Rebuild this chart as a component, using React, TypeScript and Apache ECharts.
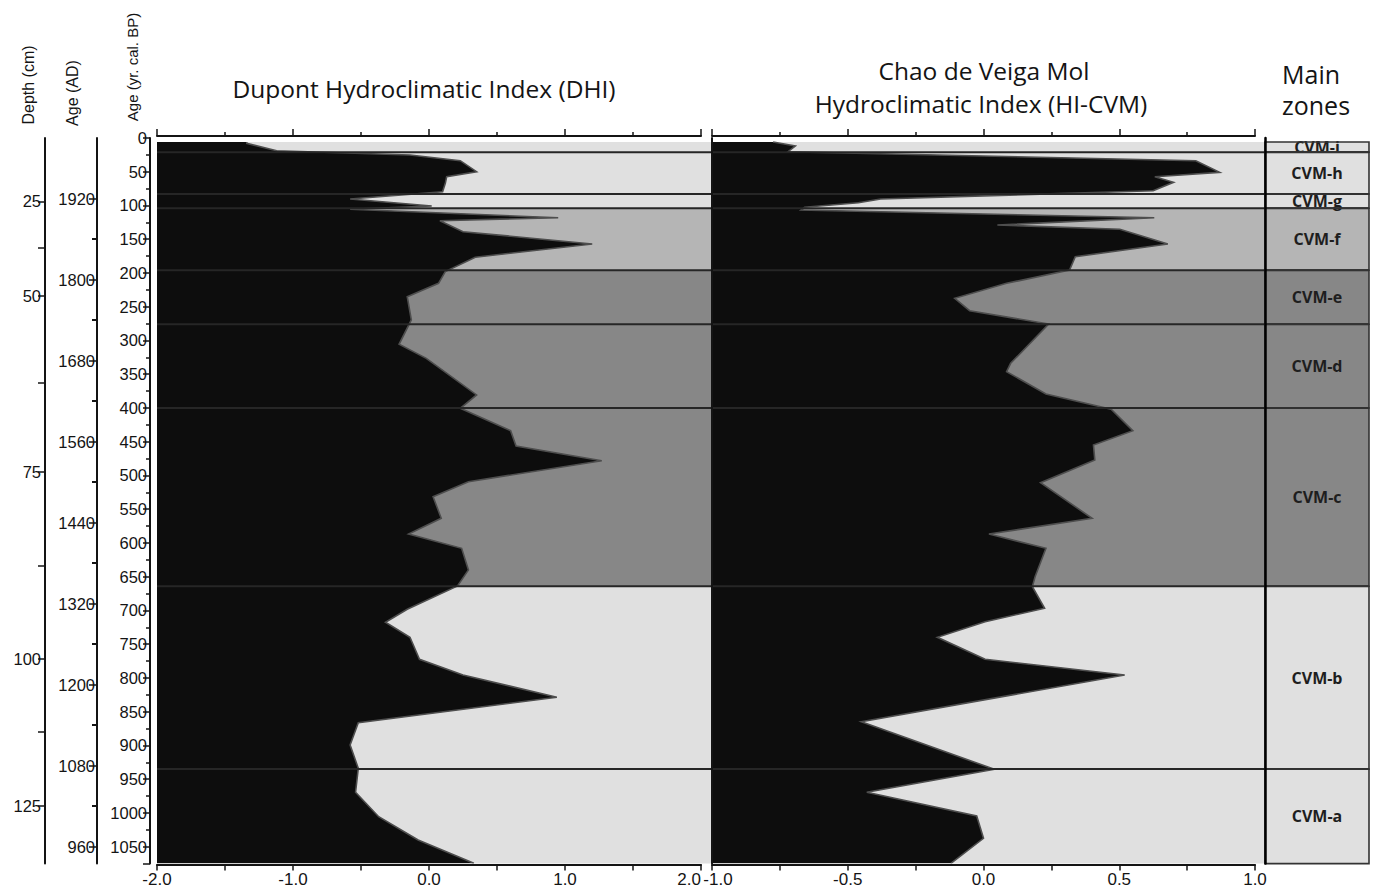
import React, { useEffect, useRef } from 'react';
import * as echarts from 'echarts';

// ---------------- data ----------------
const ageMax = 1075; // yr cal BP at the bottom of the profile
const adAtZeroBP = 2010; // Age (AD) = adAtZeroBP - Age (BP)
const bpLabelStep = 50;

const depthTicks = [25, 37.5, 50, 62.5, 75, 87.5, 100, 112.5, 125];
const depthTickAges = [94, 163, 234, 363, 495, 634, 772, 880, 989];
const depthLabelStep = 25;

const adLabels = [1920, 1800, 1680, 1560, 1440, 1320, 1200, 1080, 960];
const adMinorTicks = [1860, 1740, 1620, 1500, 1380, 1260, 1140, 1020];

const dhiAxisMin = -2;
const dhiAxisMax = 2;
const dhiAxisStep = 1;
const hiAxisMin = -1;
const hiAxisMax = 1;
const hiAxisStep = 0.5;

const dhiAges = [6, 8, 18.8, 25.2, 33.6, 49.9, 57.3, 67.1, 79.6, 90.4,
  100.7, 105.6, 118.1, 122.5, 138.8, 157, 176.7, 198, 215.3, 235.1,
  269.6, 305.6, 326.4, 380.7, 400.4, 433.6, 456.3, 478.1, 509.2, 531.4,
  563.4, 586.7, 607.9, 640, 663.7, 698.2, 717.5, 739.7, 772.3, 795.6,
  828.6, 866.2, 899.3, 933.8, 969.3, 1005.5, 1040, 1074.5];
const dhiValues = [-1.34, -1.34, -1.12, -0.14, 0.23, 0.35, 0.13, 0.12, 0.10, -0.58,
  0.02, -0.58, 0.95, 0.08, 0.25, 1.20, 0.34, 0.12, 0.07, -0.16,
  -0.13, -0.22, -0.02, 0.35, 0.23, 0.60, 0.64, 1.27, 0.29, 0.03,
  0.09, -0.15, 0.24, 0.29, 0.21, -0.16, -0.32, -0.14, -0.07, 0.25,
  0.94, -0.52, -0.58, -0.52, -0.54, -0.37, -0.08, 0.33];

const hiAges = [6, 11.9, 20.3, 33.6, 50.8, 57.3, 65.6, 78.1, 90.4, 95.9,
  102.7, 106.7, 118.1, 128.9, 135.3, 157, 175.9, 195.6, 215.3, 237.5,
  255.9, 275.6, 333.8, 346.2, 379.3, 401.9, 433.6, 454.8, 477, 510.7,
  563.4, 586.7, 607.9, 649.9, 664.7, 696.7, 716.6, 739.7, 772.3, 795.6,
  864.7, 935.3, 969.3, 1004.4, 1037.5, 1074.5];
const hiValues = [-0.775, -0.693, -0.72, 0.782, 0.87, 0.631, 0.70, 0.625, -0.379, -0.461,
  -0.659, -0.672, 0.629, 0.051, 0.502, 0.679, 0.338, 0.317, 0.085, -0.106,
  -0.051, 0.24, 0.10, 0.085, 0.23, 0.47, 0.55, 0.405, 0.41, 0.21,
  0.40, 0.02, 0.23, 0.19, 0.18, 0.225, 0.006, -0.17, 0.006, 0.52,
  -0.45, 0.04, -0.43, -0.025, 0.0, -0.12];

const zoneNames = ['CVM-i', 'CVM-h', 'CVM-g', 'CVM-f', 'CVM-e', 'CVM-d', 'CVM-c', 'CVM-b', 'CVM-a'];
const zoneTops = [6, 21, 83, 104, 196, 276, 400, 664, 935];
const zoneBottoms = [21, 83, 104, 196, 276, 400, 664, 935, 1075];
const zoneShades = ['light', 'light', 'light', 'medium', 'dark', 'dark', 'dark', 'light', 'light'];

// ---------------- styles ----------------
const shadeColors: Record<string, string> = { light: '#e0e0e0', medium: '#b5b5b5', dark: '#878787' };
const ink = '#141414';
const sans = '"Liberation Sans", Arial, sans-serif';
const titleFont = '"Open Sans", "Noto Sans", sans-serif';

const GRID_TOP = 138;
const GRID_H = 725.6;

function profileSeries(xi: number, yi: number, values: number[], ages: number[], base: number) {
  return {
    type: 'custom',
    xAxisIndex: xi,
    yAxisIndex: yi,
    z: 3,
    silent: true,
    clip: true,
    data: ages.map((a, i) => [values[i], a]),
    encode: { x: 0, y: 1 },
    renderItem: (params: any, api: any) => {
      if (params.dataIndex !== 0) return null;
      const line = ages.map((a, i) => api.coord([values[i], a]));
      const poly = [api.coord([base, ages[0]]), ...line, api.coord([base, ages[ages.length - 1]])];
      return {
        type: 'group',
        children: [
          { type: 'polygon', shape: { points: poly }, style: { fill: '#0d0d0d' } },
          { type: 'polyline', shape: { points: line }, style: { stroke: '#4e4e4e', lineWidth: 1.6, fill: 'none' } },
        ],
      };
    },
  };
}

function topBottomX(grid: number, min: number, max: number, step: number, bottom: boolean, extraLabel: any) {
  return {
    gridIndex: grid,
    type: 'value',
    position: bottom ? 'bottom' : 'top',
    offset: bottom ? 1 : 2,
    min,
    max,
    interval: step,
    z: 10,
    axisLine: { show: true, onZero: false, lineStyle: { color: ink, width: 2 } },
    axisTick: { show: true, length: bottom ? 6 : 7, lineStyle: { color: ink, width: 1.5 } },
    minorTick: { show: true, splitNumber: 2, length: bottom ? 6 : 4, lineStyle: { color: ink, width: 1.5 } },
    axisLabel: bottom
      ? { show: true, formatter: (v: number) => v.toFixed(1), fontSize: 17, fontFamily: sans, color: ink, margin: 6, ...extraLabel }
      : { show: false },
    splitLine: { show: false },
    minorSplitLine: { show: false },
  };
}

export default function App() {
  const ref = useRef<HTMLDivElement>(null);

  useEffect(() => {
    document.body.style.margin = '0';
    const chart = echarts.init(ref.current as HTMLDivElement, null, { renderer: 'svg' });

    const depthMajorAges = depthTickAges.filter((_, i) => depthTicks[i] % depthLabelStep === 0);
    const leftLabel = { fontSize: 16.5, fontFamily: sans, color: ink, margin: 3 };

    const option: any = {
      animation: false,
      backgroundColor: '#ffffff',
      grid: [
        { left: 157, top: GRID_TOP, width: 1212, height: GRID_H },
        { left: 157, top: GRID_TOP, width: 544, height: GRID_H },
        { left: 712, top: GRID_TOP, width: 543, height: GRID_H },
        { left: 1265, top: GRID_TOP, width: 104, height: GRID_H },
      ],
      xAxis: [
        { gridIndex: 0, type: 'value', min: 0, max: 1, show: false },
        topBottomX(1, dhiAxisMin, dhiAxisMax, dhiAxisStep, true, { alignMaxLabel: 'right' }),
        topBottomX(1, dhiAxisMin, dhiAxisMax, dhiAxisStep, false, {}),
        topBottomX(2, hiAxisMin, hiAxisMax, hiAxisStep, true, {
          formatter: (v: number) => (v === hiAxisMin ? `{m|${v.toFixed(1)}}` : v.toFixed(1)),
          rich: { m: { fontSize: 17, fontFamily: sans, color: ink, padding: [0, 0, 0, 12] } },
        }),
        topBottomX(2, hiAxisMin, hiAxisMax, hiAxisStep, false, {}),
        { gridIndex: 3, type: 'value', min: 0, max: 1, show: false },
      ],
      yAxis: [
        { gridIndex: 0, type: 'value', min: 0, max: ageMax, inverse: true, show: false },
        {
          gridIndex: 1, type: 'value', min: 0, max: ageMax, inverse: true, interval: bpLabelStep,
          position: 'left', offset: 7, z: 10,
          axisLine: { show: true, onZero: false, lineStyle: { color: ink, width: 2 } },
          axisTick: { show: true, length: 7, lineStyle: { color: ink, width: 1.5 } },
          minorTick: { show: true, splitNumber: 2, length: 4, lineStyle: { color: ink, width: 1.5 } },
          axisLabel: { showMaxLabel: false, formatter: (v: number) => String(v), ...leftLabel },
          splitLine: { show: false },
        },
        {
          gridIndex: 1, type: 'value', min: adAtZeroBP - ageMax, max: adAtZeroBP,
          position: 'left', offset: 60, z: 10,
          axisLine: { show: true, onZero: false, lineStyle: { color: ink, width: 2 } },
          axisTick: { show: true, customValues: adLabels, length: 8, lineStyle: { color: ink, width: 1.5 } },
          axisLabel: { show: true, customValues: adLabels, formatter: (v: number) => String(v), ...leftLabel, margin: 2 },
          splitLine: { show: false },
        },
        {
          gridIndex: 1, type: 'value', min: adAtZeroBP - ageMax, max: adAtZeroBP,
          position: 'left', offset: 60, z: 10,
          axisLine: { show: false, onZero: false },
          axisTick: { show: true, customValues: adMinorTicks, length: 5, lineStyle: { color: ink, width: 2 } },
          axisLabel: { show: false },
          splitLine: { show: false },
        },
        {
          gridIndex: 1, type: 'value', min: 0, max: ageMax, inverse: true,
          position: 'left', offset: 112, z: 10,
          axisLine: { show: true, onZero: false, lineStyle: { color: ink, width: 2 } },
          axisTick: { show: true, customValues: depthTickAges, length: 7, lineStyle: { color: ink, width: 1.5 } },
          axisLabel: {
            show: true, customValues: depthMajorAges, ...leftLabel, margin: 4,
            formatter: (v: number) => String(depthTicks[depthTickAges.indexOf(v)]),
          },
          splitLine: { show: false },
        },
        {
          gridIndex: 2, type: 'value', min: 0, max: ageMax, inverse: true, position: 'left', z: 10,
          axisLine: { show: true, onZero: false, lineStyle: { color: ink, width: 2 } },
          axisTick: { show: false }, axisLabel: { show: false }, splitLine: { show: false },
        },
        {
          gridIndex: 3, type: 'value', min: 0, max: ageMax, inverse: true, position: 'left', z: 10,
          axisLine: { show: true, onZero: false, lineStyle: { color: '#000', width: 2.5 } },
          axisTick: { show: false }, axisLabel: { show: false }, splitLine: { show: false },
        },
      ],
      series: [
        {
          type: 'custom', xAxisIndex: 0, yAxisIndex: 0, z: 1, silent: true,
          data: zoneNames.map((_, i) => [0, zoneTops[i], zoneBottoms[i]]),
          encode: { x: 0, y: [1, 2] },
          renderItem: (params: any, api: any) => {
            const i = params.dataIndex;
            const p0 = api.coord([0, zoneTops[i]]);
            const p1 = api.coord([1, zoneBottoms[i]]);
            return {
              type: 'rect',
              shape: { x: p0[0], y: p0[1], width: p1[0] - p0[0], height: p1[1] - p0[1] },
              style: { fill: shadeColors[zoneShades[i]] },
            };
          },
        },
        profileSeries(1, 1, dhiValues, dhiAges, dhiAxisMin),
        profileSeries(3, 5, hiValues, hiAges, hiAxisMin),
        {
          type: 'custom', xAxisIndex: 0, yAxisIndex: 0, z: 5, silent: true,
          data: zoneTops.slice(1).map((t) => [0, t]),
          encode: { x: 0, y: 1 },
          renderItem: (params: any, api: any) => {
            const t = zoneTops[params.dataIndex + 1];
            const a = api.coord([0, t]);
            const b = api.coord([1, t]);
            return {
              type: 'line',
              shape: { x1: a[0], y1: a[1], x2: b[0], y2: b[1] },
              style: { stroke: '#262626', lineWidth: 2 },
            };
          },
        },
        {
          type: 'custom', xAxisIndex: 5, yAxisIndex: 6, z: 6, silent: true, clip: false,
          data: zoneNames.map((_, i) => [0.5, zoneTops[i], zoneBottoms[i]]),
          encode: { x: 0, y: [1, 2] },
          renderItem: (params: any, api: any) => {
            const i = params.dataIndex;
            const p0 = api.coord([0, zoneTops[i]]);
            const p1 = api.coord([1, zoneBottoms[i]]);
            const c = api.coord([0.5, (zoneTops[i] + zoneBottoms[i]) / 2]);
            return {
              type: 'group',
              children: [
                {
                  type: 'text',
                  x: c[0], y: c[1],
                  style: {
                    text: zoneNames[i], fill: '#1e1e1e', align: 'center', verticalAlign: 'middle',
                    font: 'bold 16px "Open Sans", "Noto Sans", sans-serif',
                  },
                },
                {
                  type: 'rect',
                  shape: { x: p0[0], y: p0[1], width: p1[0] - p0[0], height: p1[1] - p0[1] },
                  style: { fill: 'none', stroke: '#333333', lineWidth: 1.6 },
                },
              ],
            };
          },
        },
      ],
      graphic: [
        { type: 'text', x: 28, y: 85, rotation: Math.PI / 2, style: { text: 'Depth (cm)', font: `16px ${sans}`, fill: ink, align: 'center', verticalAlign: 'middle' } },
        { type: 'text', x: 72, y: 93, rotation: Math.PI / 2, style: { text: 'Age (AD)', font: `16px ${sans}`, fill: ink, align: 'center', verticalAlign: 'middle' } },
        { type: 'text', x: 132, y: 67, rotation: Math.PI / 2, style: { text: 'Age (yr. cal. BP)', font: `15px ${sans}`, fill: ink, align: 'center', verticalAlign: 'middle' } },
        { type: 'text', x: 424, y: 88, style: { text: 'Dupont Hydroclimatic Index (DHI)', font: `24.5px ${titleFont}`, fill: ink, align: 'center', verticalAlign: 'middle' } },
        { type: 'text', x: 984, y: 70, style: { text: 'Chao de Veiga Mol', font: `24.5px ${titleFont}`, fill: ink, align: 'center', verticalAlign: 'middle' } },
        { type: 'text', x: 981, y: 103, style: { text: 'Hydroclimatic Index (HI-CVM)', font: `24.5px ${titleFont}`, fill: ink, align: 'center', verticalAlign: 'middle' } },
        { type: 'text', x: 1282, y: 74, style: { text: 'Main', font: `25px ${titleFont}`, fill: ink, align: 'left', verticalAlign: 'middle' } },
        { type: 'text', x: 1282, y: 105, style: { text: 'zones', font: `25px ${titleFont}`, fill: ink, align: 'left', verticalAlign: 'middle' } },
      ],
    };

    chart.setOption(option);
    return () => chart.dispose();
  }, []);

  return <div ref={ref} style={{ position: 'absolute', left: 0, top: 0, width: 1375, height: 894 }} />;
}
